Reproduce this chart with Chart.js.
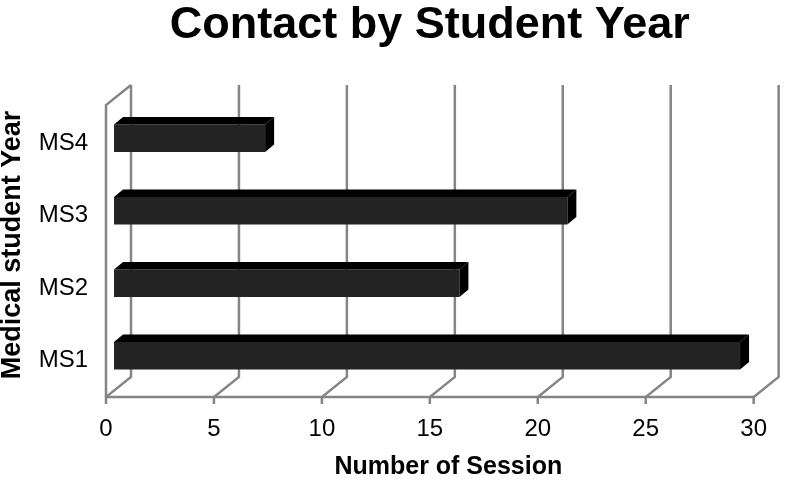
<!DOCTYPE html>
<html><head><meta charset="utf-8">
<script src="https://cdn.jsdelivr.net/npm/chart.js@4.4.1/dist/chart.umd.min.js"></script>
<style>html,body{margin:0;padding:0;background:#fff}#wrap{width:785px;height:480px}</style>
</head><body><div id="wrap"><canvas id="c" width="785" height="480"></canvas></div>
<script>
const categories = ['MS4', 'MS3', 'MS2', 'MS1'];
const sessions = [7, 21, 16, 29];
const xTickStep = 5;
const xMin = 0;
const xMax = 30;
const chartTitle = 'Contact by Student Year';
const xTitle = 'Number of Session';
const yTitle = 'Medical student Year';

const FONT = '"Liberation Sans", Arial, Helvetica, sans-serif';
const DX = 25, DY = -20;          // depth offset of back wall
const BAR_OX = 8, BAR_OY = -5;    // bar front face offset from front plane
const BAR_DX = 9, BAR_DY = -7.5;  // bar depth
const GRID = '#858585';

const depthPlugin = {
  id: 'depth3d',
  beforeDatasetsDraw(chart) {
    const ctx = chart.ctx, xs = chart.scales.x, a = chart.chartArea;
    ctx.save();
    ctx.strokeStyle = GRID;
    ctx.lineWidth = 2.5;
    ctx.lineJoin = 'miter';
    const ticks = xs.ticks.map(t => t.value);
    ticks.forEach(v => {
      const fx = xs.getPixelForValue(v);
      ctx.beginPath();
      ctx.moveTo(fx + DX, a.top + DY - 2);
      ctx.lineTo(fx + DX, a.bottom + DY);
      ctx.lineTo(fx, a.bottom);
      ctx.lineTo(fx, a.bottom + 7);
      ctx.stroke();
    });
    ctx.beginPath();
    ctx.moveTo(a.left + DX, a.top + DY - 2);
    ctx.lineTo(a.left, a.top - 2);
    ctx.lineTo(a.left, a.bottom);
    ctx.stroke();
    ctx.beginPath();
    ctx.moveTo(a.left, a.bottom);
    ctx.lineTo(xs.getPixelForValue(xMax), a.bottom);
    ctx.stroke();
    ctx.restore();
    ctx.save();
    ctx.translate(BAR_OX, BAR_OY);
  },
  afterDatasetsDraw(chart) {
    const ctx = chart.ctx;
    ctx.restore();
    ctx.save();
    ctx.fillStyle = '#000';
    chart.getDatasetMeta(0).data.forEach(b => {
      const p = b.getProps(['x', 'y', 'base', 'height'], true);
      const l = p.base + BAR_OX, r = p.x + BAR_OX;
      const t = p.y - p.height / 2 + BAR_OY, bt = p.y + p.height / 2 + BAR_OY;
      ctx.beginPath();
      ctx.moveTo(l, t); ctx.lineTo(r, t); ctx.lineTo(r + BAR_DX, t + BAR_DY); ctx.lineTo(l + BAR_DX, t + BAR_DY);
      ctx.closePath(); ctx.fill();
      ctx.beginPath();
      ctx.moveTo(r, t); ctx.lineTo(r + BAR_DX, t + BAR_DY); ctx.lineTo(r + BAR_DX, bt + BAR_DY); ctx.lineTo(r, bt);
      ctx.closePath(); ctx.fill();
    });
    ctx.restore();
  },
  afterDraw(chart) {
    const ctx = chart.ctx, xs = chart.scales.x, a = chart.chartArea;
    ctx.save();
    ctx.fillStyle = '#000';
    ctx.font = 'bold 25px ' + FONT;
    ctx.textAlign = 'center';
    ctx.textBaseline = 'middle';
    ctx.fillText(xTitle, (xs.left + xs.right + DX) / 2 + 6, 467);
    ctx.translate(13, (a.top + DY + a.bottom) / 2 + 3);
    ctx.rotate(-Math.PI / 2);
    ctx.font = 'bold 27px ' + FONT;
    ctx.fillText(yTitle, 0, 0);
    ctx.restore();
  }
};

new Chart(document.getElementById('c'), {
  type: 'bar',
  data: {
    labels: categories,
    datasets: [{
      data: sessions,
      backgroundColor: '#232323',
      borderWidth: 0,
      barPercentage: 0.38,
      categoryPercentage: 1
    }]
  },
  options: {
    indexAxis: 'y',
    responsive: false,
    animation: false,
    layout: { padding: { left: 0, right: 15, top: 0, bottom: 0 } },
    plugins: {
      legend: { display: false },
      tooltip: { enabled: false },
      title: {
        display: true, text: chartTitle, fullSize: false, color: '#000',
        font: { family: FONT, size: 45, weight: 'bold' },
        padding: { top: -1, bottom: 54 }
      }
    },
    scales: {
      x: {
        min: xMin, max: xMax,
        ticks: { stepSize: xTickStep, color: '#000', font: { family: FONT, size: 24 }, padding: 18 },
        grid: { display: false, drawTicks: false },
        border: { display: false },
        afterFit(s) { s.height = 83; }
      },
      y: {
        ticks: { color: '#000', font: { family: FONT, size: 24 }, padding: 18 },
        grid: { display: false, drawTicks: false },
        border: { display: false },
        afterFit(s) { s.width = 106; }
      }
    }
  },
  plugins: [depthPlugin]
});
</script>
</body></html>
